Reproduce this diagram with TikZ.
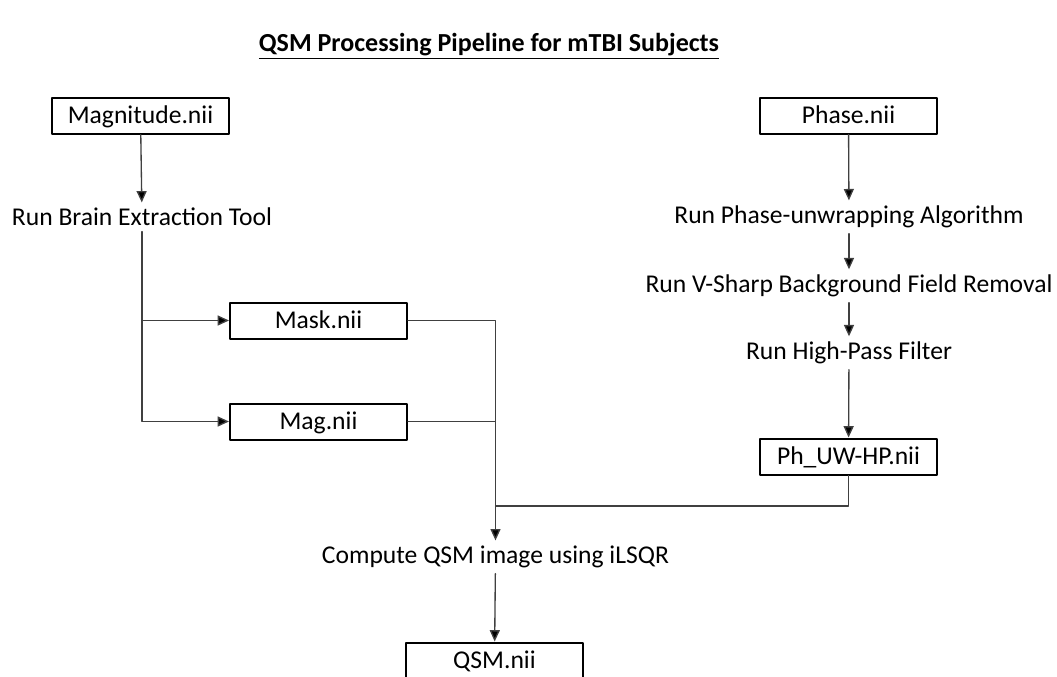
\documentclass[tikz,border=0pt]{standalone}
\usepackage{fontspec}
\setmainfont{Carlito}
\usetikzlibrary{arrows.meta}
\definecolor{linegray}{rgb}{0.25,0.25,0.25}
\tikzset{
  filebox/.style={draw=black,line width=1.5pt,minimum width=132.75pt,minimum height=27pt,inner sep=0pt,text height=12.4pt,text depth=0pt,font=\fontsize{19.2}{21}\selectfont},
  steptext/.style={inner sep=4pt,font=\fontsize{19.2}{21}\selectfont},
  flow/.style={draw=linegray,line width=1pt},
  flowarr/.style={flow,-{Triangle[length=8.5pt,width=7.5pt,fill=black]}}
}
\begin{document}
\begin{tikzpicture}[line cap=round,line join=round,x=0.75pt,y=-0.75pt]
\useasboundingbox (0,0) rectangle (1057,676);
\node[font=\fontsize{19.5}{21}\selectfont\bfseries] (title) at (489,46) {\underline{QSM Processing Pipeline for mTBI Subjects}};
% magnitude branch
\node[filebox] (magin) at (140.5,115.5) {Magnitude.nii};
\node[steptext] (bet) at (142,217) {Run Brain Extraction Tool};
\node[filebox] (mask) at (318.5,320.5) {Mask.nii};
\node[filebox] (magout) at (318.5,421.5) {Mag.nii};
% phase branch
\node[filebox] (phin) at (848.5,115.5) {Phase.nii};
\node[steptext] (unwrap) at (849,217) {Run Phase-unwrapping Algorithm};
\node[steptext] (vsharp) at (849,286) {Run V-Sharp Background Field Removal};
\node[steptext] (hpf) at (849,353) {Run High-Pass Filter};
\node[filebox] (phout) at (848.5,456.5) {Ph\_UW-HP.nii};
% QSM
\node[steptext] (ilsqr) at (495.5,557) {Compute QSM image using iLSQR};
\node[filebox] (qsm) at (494.5,660.5) {QSM.nii};
\coordinate (join) at (ilsqr.north |- 0,506);
\draw[flowarr] (magin) -- (bet);
\draw[flowarr] (bet.south) |- (magout.west);
\draw[flowarr] (bet.south |- mask.west) -- (mask.west);
\draw[flowarr] (mask.east) -| (ilsqr.north);
\draw[flow] (magout.east) -| (join);
\draw[flow] (phout.south) |- (join);
\foreach \a/\b in {phin/unwrap,unwrap/vsharp,vsharp/hpf,hpf/phout}
  \draw[flowarr] (\a) -- (\b);
\draw[flowarr] (ilsqr) -- (qsm);
\end{tikzpicture}
\end{document}
